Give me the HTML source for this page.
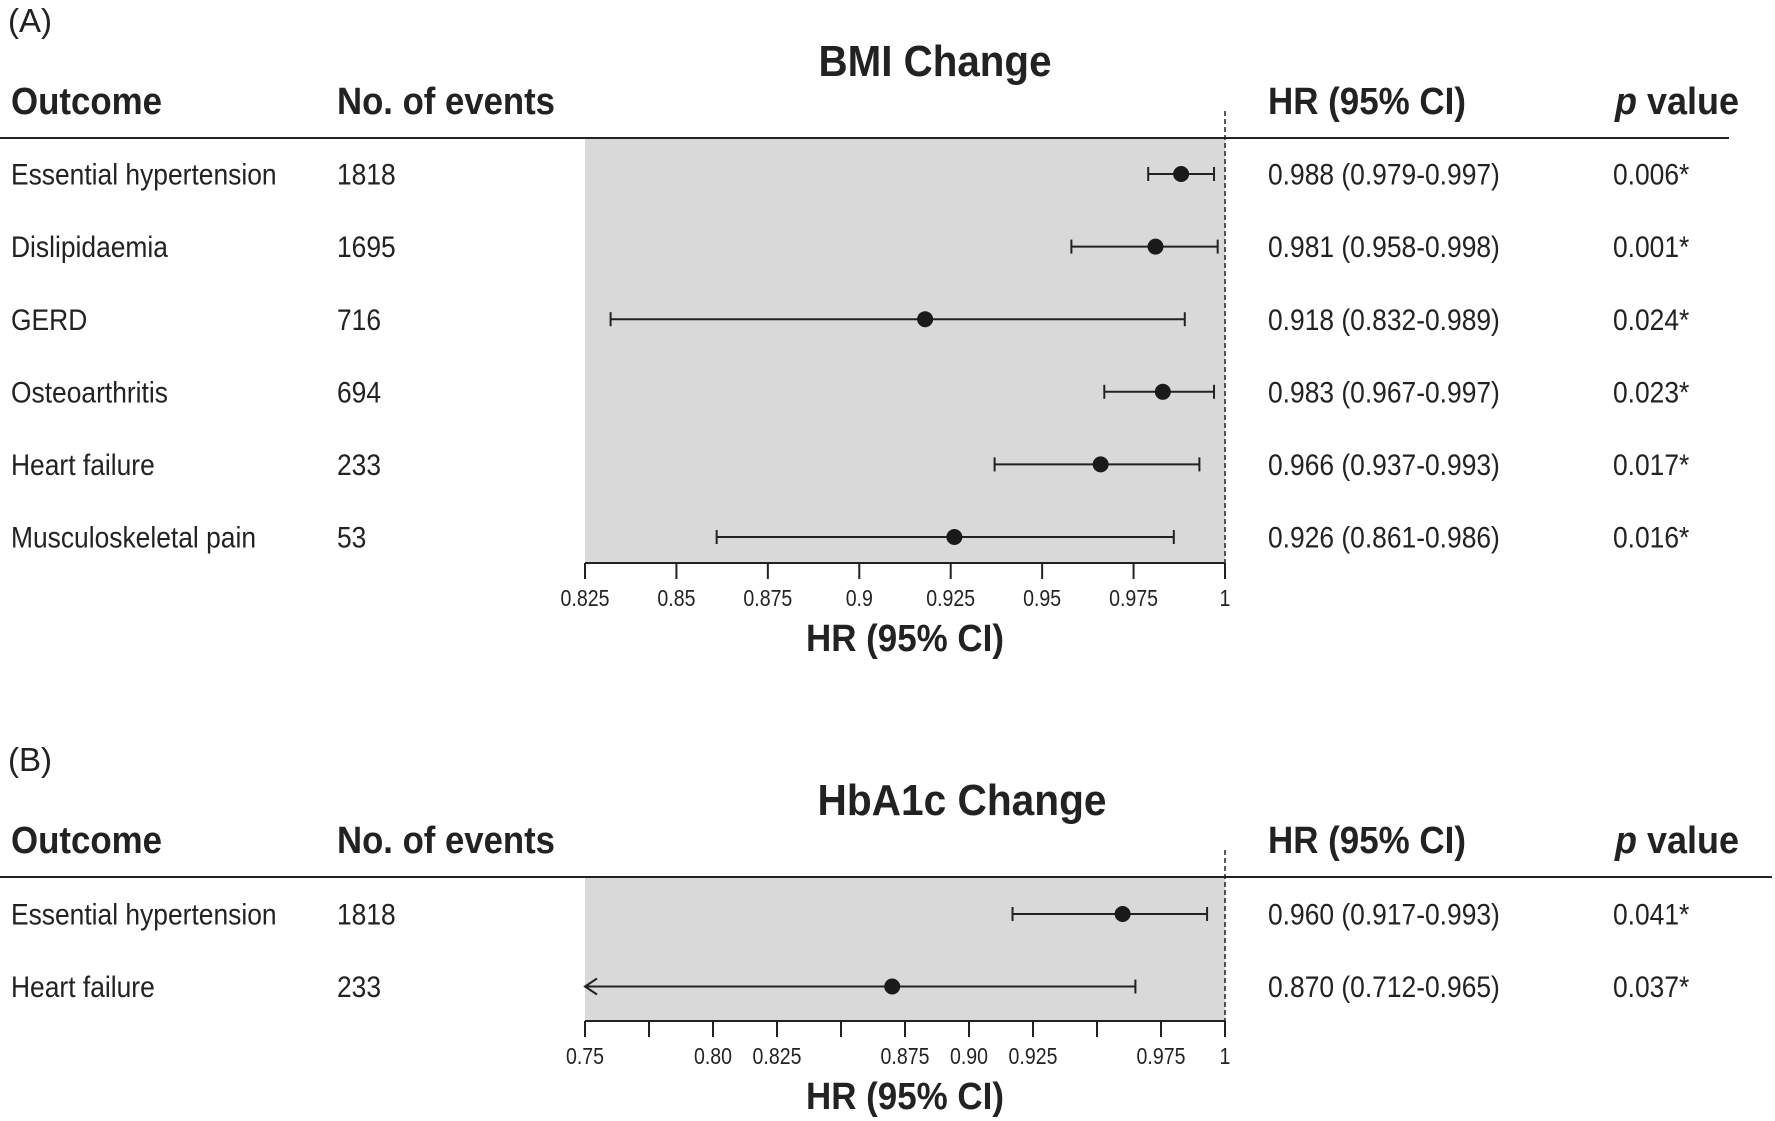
<!DOCTYPE html>
<html><head><meta charset="utf-8"><style>
html,body{margin:0;padding:0;background:#fff}
svg{display:block;font-family:"Liberation Sans",sans-serif;fill:#222}
</style></head><body>
<svg id="chart" width="1775" height="1121" viewBox="0 0 1775 1121">
<g id="root"></g>
</svg>
<script>
const outcomesA = ["Essential hypertension","Dislipidaemia","GERD","Osteoarthritis","Heart failure","Musculoskeletal pain"];
const eventsA = ["1818","1695","716","694","233","53"];
const hrA = [0.988,0.981,0.918,0.983,0.966,0.926];
const loA = [0.979,0.958,0.832,0.967,0.937,0.861];
const hiA = [0.997,0.998,0.989,0.997,0.993,0.986];
const hrTextA = ["0.988 (0.979-0.997)","0.981 (0.958-0.998)","0.918 (0.832-0.989)","0.983 (0.967-0.997)","0.966 (0.937-0.993)","0.926 (0.861-0.986)"];
const pA = ["0.006*","0.001*","0.024*","0.023*","0.017*","0.016*"];
const ticksA = [0.825,0.85,0.875,0.9,0.925,0.95,0.975,1];
const tickLabelsA = ["0.825","0.85","0.875","0.9","0.925","0.95","0.975","1"];

const outcomesB = ["Essential hypertension","Heart failure"];
const eventsB = ["1818","233"];
const hrB = [0.960,0.870];
const loB = [0.917,0.712];
const hiB = [0.993,0.965];
const hrTextB = ["0.960 (0.917-0.993)","0.870 (0.712-0.965)"];
const pB = ["0.041*","0.037*"];
const ticksB = [0.75,0.775,0.8,0.825,0.85,0.875,0.9,0.925,0.95,0.975,1];
const tickLabelsB = ["0.75","","0.80","0.825","","0.875","0.90","0.925","","0.975","1"];

const NS="http://www.w3.org/2000/svg";
const root=document.getElementById('root');
function mk(tag,attrs,parent,text){const e=document.createElementNS(NS,tag);for(const k in attrs)e.setAttribute(k,attrs[k]);if(text!==undefined)e.textContent=text;(parent||root).appendChild(e);return e;}

function panel(cfg){
  const g=mk('g',{});
  
  
  const x0=585,x1=1225;
  const sx=v=>x0+(v-cfg.min)/(1-cfg.min)*(x1-x0);
  let t;
  t=mk('text',{x:8,y:cfg.top+32,'font-size':33},g,cfg.letter);
  
  t=mk('text',{x:cfg.titleX,y:cfg.top+76,'font-size':44,'font-weight':'bold','text-anchor':'middle',textLength:cfg.titleW,lengthAdjust:'spacingAndGlyphs'},g,cfg.title);
  
  const hy=cfg.top+114;
  const heads=[["Outcome",11,151],["No. of events",337,218],["HR (95% CI)",1268,198],["p value",1615,124]];
  heads.forEach(h=>{
    const tt=mk('text',{x:h[1],y:hy,'font-size':38,'font-weight':'bold',textLength:h[2],lengthAdjust:'spacingAndGlyphs'},g);
    
    if(h[0]==="p value"){mk('tspan',{'font-style':'italic'},tt,'p');mk('tspan',{},tt,' value');}
    else tt.textContent=h[0];
  });
  const ly=cfg.top+138;
  const shadeTop=ly, axisY=cfg.axisY;
  const sh=mk('rect',{x:x0,y:shadeTop,width:x1-x0,height:axisY-shadeTop,fill:'#d9d9d9'},g);
  
  const hl=mk('line',{x1:0,x2:cfg.lineEnd,y1:ly,y2:ly,stroke:'#222','stroke-width':2},g);
  
  const dl=mk('line',{x1:x1,x2:x1,y1:cfg.top+111,y2:axisY,stroke:'#222','stroke-width':1.5,'stroke-dasharray':'5,3'},g);
  
  const ax=mk('line',{x1:x0,x2:x1,y1:axisY,y2:axisY,stroke:'#222','stroke-width':2},g);
  
  cfg.ticks.forEach((v,i)=>{
    const tk=mk('line',{x1:sx(v),x2:sx(v),y1:axisY,y2:axisY+16,stroke:'#222','stroke-width':2},g);
    
    if(cfg.tickLabels[i]){
      const tl=mk('text',{x:sx(v),y:axisY+43,'font-size':23,'text-anchor':'middle',transform:`translate(${sx(v)},0) scale(0.85,1) translate(${-sx(v)},0)`},g,cfg.tickLabels[i]);
      
    }
  });
  const at=mk('text',{x:905,y:axisY+88,'font-size':38,'font-weight':'bold','text-anchor':'middle',textLength:198,lengthAdjust:'spacingAndGlyphs'},g,'HR (95% CI)');
  
  cfg.outcomes.forEach((o,i)=>{
    const y=cfg.rowY0+i*cfg.rowStep;
    const row=mk('g',{},g);
    
    
    const fs={'font-size':30,'dominant-baseline':'central'};
    const t1=mk('text',Object.assign({x:11,y:y,transform:`translate(11,0) scale(0.88,1) translate(-11,0)`},fs),row,o);
    
    const t2=mk('text',Object.assign({x:337,y:y,transform:`translate(337,0) scale(0.88,1) translate(-337,0)`},fs),row,cfg.events[i]);
    
    const t3=mk('text',Object.assign({x:1268,y:y,transform:`translate(1268,0) scale(0.88,1) translate(-1268,0)`},fs),row,cfg.hrText[i]);
    
    const t4=mk('text',Object.assign({x:1613,y:y,transform:`translate(1613,0) scale(0.88,1) translate(-1613,0)`},fs),row,cfg.p[i]);
    
    const lo=Math.max(cfg.lo[i],cfg.min);
    const ci=mk('line',{x1:sx(lo),x2:sx(cfg.hi[i]),y1:y,y2:y,stroke:'#222','stroke-width':2},row);
    
    const c2=mk('line',{x1:sx(cfg.hi[i]),x2:sx(cfg.hi[i]),y1:y-7,y2:y+7,stroke:'#222','stroke-width':2},row);
    
    if(cfg.lo[i]<cfg.min){
      const ar=mk('polyline',{points:`${sx(lo)+12},${y-8} ${sx(lo)},${y} ${sx(lo)+12},${y+8}`,fill:'none',stroke:'#222','stroke-width':2},row);
      
    } else {
      const c1=mk('line',{x1:sx(lo),x2:sx(lo),y1:y-7,y2:y+7,stroke:'#222','stroke-width':2},row);
      
    }
    const pt=mk('circle',{cx:sx(cfg.hr[i]),cy:y,r:8,fill:'#1a1a1a'},row);
    
  });
}
panel({name:'panel-a-bmi',letter:'(A)',title:'BMI Change',titleX:935,titleW:233,top:0,lineEnd:1729,axisY:563,min:0.825,ticks:ticksA,tickLabels:tickLabelsA,
  outcomes:outcomesA,events:eventsA,hr:hrA,lo:loA,hi:hiA,hrText:hrTextA,p:pA,rowY0:174,rowStep:72.6});
panel({name:'panel-b-hba1c',letter:'(B)',title:'HbA1c Change',titleX:962,titleW:289,top:739,lineEnd:1772,axisY:1021,min:0.75,ticks:ticksB,tickLabels:tickLabelsB,
  outcomes:outcomesB,events:eventsB,hr:hrB,lo:loB,hi:hiB,hrText:hrTextB,p:pB,rowY0:914,rowStep:72.5});
</script>
</body></html>
